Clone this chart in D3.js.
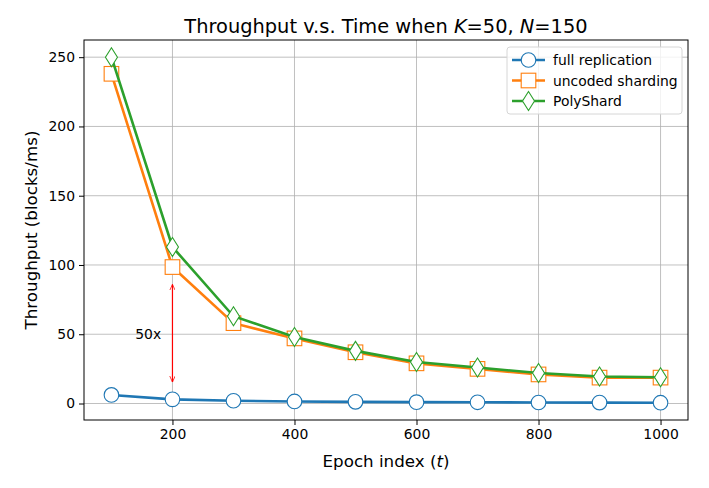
<!DOCTYPE html>
<html>
<head>
<meta charset="utf-8">
<script src="https://cdn.jsdelivr.net/npm/d3@7"></script>
<style>
  body { margin: 0; background: #fff; }
  svg { display: block; font-family: "DejaVu Sans", sans-serif; }
</style>
</head>
<body>
<svg id="chart" width="709" height="488"></svg>
<script>
// Throughput over epochs for three schemes (K=50, N=150)
const epochs = [100, 200, 300, 400, 500, 600, 700, 800, 900, 1000];
const fullReplication = [6.2, 3.0, 2.0, 1.5, 1.2, 1.0, 0.86, 0.75, 0.67, 0.6];
const uncodedSharding = [238, 98.5, 58, 47, 37, 29, 25, 21, 18.7, 18.7];
const polyShard = [250, 113, 63, 48, 38, 30, 26, 22, 19.5, 19];
const xTicks = [200, 400, 600, 800, 1000];
const yTicks = [0, 50, 100, 150, 200, 250];

const series = [
  { name: "full replication", values: fullReplication, color: "#1f77b4", marker: "circle" },
  { name: "uncoded sharding", values: uncodedSharding, color: "#ff7f0e", marker: "square" },
  { name: "PolyShard", values: polyShard, color: "#2ca02c", marker: "diamond" },
];

const svg = d3.select("#chart");
const margin = { left: 84, top: 40, right: 21, bottom: 68 };
const W = 709, H = 488;

const x = d3.scaleLinear().domain([55, 1045]).range([margin.left, W - margin.right]);
const y = d3.scaleLinear().domain([-11.9, 262.4]).range([H - margin.bottom, margin.top]);

// grid
const grid = svg.append("g").attr("stroke", "#b0b0b0").attr("stroke-width", 0.8);
xTicks.forEach((t) => {
  grid.append("line").attr("x1", x(t)).attr("x2", x(t))
    .attr("y1", margin.top).attr("y2", H - margin.bottom);
});
yTicks.forEach((t) => {
  grid.append("line").attr("y1", y(t)).attr("y2", y(t))
    .attr("x1", margin.left).attr("x2", W - margin.right);
});

// axes
const xAxis = svg.append("g")
  .attr("transform", `translate(0,${H - margin.bottom})`)
  .call(d3.axisBottom(x).tickValues(xTicks).tickFormat(d3.format("d")).tickSize(5).tickPadding(4));
const yAxis = svg.append("g")
  .attr("transform", `translate(${margin.left},0)`)
  .call(d3.axisLeft(y).tickValues(yTicks).tickFormat(d3.format("d")).tickSize(5).tickPadding(4));
[xAxis, yAxis].forEach((a) => {
  a.select(".domain").remove();
  a.selectAll("text").attr("font-size", 13.9).attr("fill", "#000")
    .attr("font-family", "DejaVu Sans");
  a.selectAll("line").attr("stroke", "#000");
});

// lines and markers
function drawMarker(g, kind, color) {
  if (kind === "circle") {
    g.append("circle").attr("r", 7.3);
  } else if (kind === "square") {
    g.append("rect").attr("x", -7.3).attr("y", -7.3).attr("width", 14.6).attr("height", 14.6);
  } else {
    g.append("path").attr("d", "M0,-9.5L6,0L0,9.5L-6,0Z");
  }
  g.selectAll("*").attr("fill", "#fff").attr("stroke", color).attr("stroke-width", 1.1);
}

const line = d3.line().x((d) => x(d[0])).y((d) => y(d[1]));
const plot = svg.append("g");
series.forEach((s) => {
  const pts = epochs.map((e, i) => [e, s.values[i]]);
  const g = plot.append("g");
  g.append("path").datum(pts).attr("d", line)
    .attr("fill", "none").attr("stroke", s.color).attr("stroke-width", 2.6);
  pts.forEach((p) => {
    const m = g.append("g").attr("transform", `translate(${x(p[0])},${y(p[1])})`);
    drawMarker(m, s.marker, s.color);
  });
});

// frame
svg.append("rect")
  .attr("x", margin.left).attr("y", margin.top)
  .attr("width", W - margin.left - margin.right)
  .attr("height", H - margin.top - margin.bottom)
  .attr("fill", "none").attr("stroke", "#000").attr("stroke-width", 1);

// 50x annotation (double-headed arrow)
const defs = svg.append("defs");
["arrEnd", "arrStart"].forEach((id, i) => {
  defs.append("marker")
    .attr("id", id).attr("viewBox", "0 -5 10 10")
    .attr("refX", 10).attr("refY", 0)
    .attr("markerWidth", 6).attr("markerHeight", 6)
    .attr("markerUnits", "userSpaceOnUse")
    .attr("orient", i === 0 ? "auto" : "auto-start-reverse")
    .append("path").attr("d", "M0,-4.5L10,0L0,4.5")
    .attr("fill", "none").attr("stroke", "red").attr("stroke-width", 1.3);
});
svg.append("line")
  .attr("x1", x(200)).attr("x2", x(200))
  .attr("y1", y(15.5)).attr("y2", y(86))
  .attr("stroke", "red").attr("stroke-width", 1.2)
  .attr("marker-start", "url(#arrStart)").attr("marker-end", "url(#arrEnd)");
svg.append("text")
  .attr("x", x(139)).attr("y", y(50) + 5)
  .attr("font-size", 13.9).text("50x");

// title
const title = svg.append("text")
  .attr("x", (margin.left + W - margin.right) / 2).attr("y", 33)
  .attr("text-anchor", "middle").attr("font-size", 19.4);
title.append("tspan").text("Throughput v.s. Time when ");
title.append("tspan").attr("font-style", "italic").text("K");
title.append("tspan").text("=50, ");
title.append("tspan").attr("font-style", "italic").text("N");
title.append("tspan").text("=150");

// axis labels
const xl = svg.append("text")
  .attr("x", (margin.left + W - margin.right) / 2).attr("y", 467)
  .attr("text-anchor", "middle").attr("font-size", 16.7);
xl.append("tspan").text("Epoch index (");
xl.append("tspan").attr("font-style", "italic").text("t");
xl.append("tspan").text(")");

svg.append("text")
  .attr("transform", `translate(37,${(margin.top + H - margin.bottom) / 2}) rotate(-90)`)
  .attr("text-anchor", "middle").attr("font-size", 16.7)
  .text("Throughput (blocks/ms)");

// legend
const lg = svg.append("g").attr("transform", "translate(507,47)");
lg.append("rect").attr("width", 175).attr("height", 67).attr("rx", 3)
  .attr("fill", "#fff").attr("fill-opacity", 0.8)
  .attr("stroke", "#d6d6d6").attr("stroke-width", 1);
series.forEach((s, i) => {
  const row = lg.append("g").attr("transform", `translate(0,${13 + i * 20.5})`);
  row.append("line").attr("x1", 5).attr("x2", 38)
    .attr("stroke", s.color).attr("stroke-width", 2.6);
  const m = row.append("g").attr("transform", "translate(21.5,0)");
  drawMarker(m, s.marker, s.color);
  row.append("text").attr("x", 46).attr("y", 5)
    .attr("font-size", 13.9).text(s.name);
});
</script>
</body>
</html>
